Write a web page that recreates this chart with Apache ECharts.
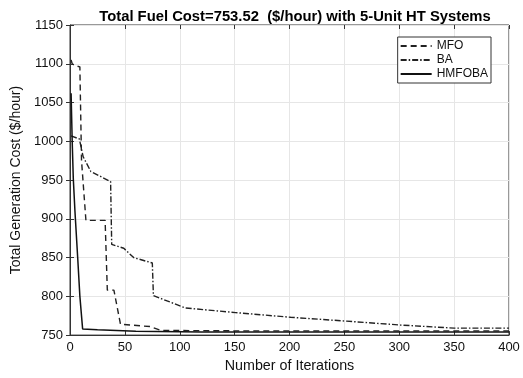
<!DOCTYPE html>
<html><head><meta charset="utf-8">
<script src="https://cdn.jsdelivr.net/npm/echarts@6/dist/echarts.min.js"></script>
<style>html,body{margin:0;padding:0;background:#fff}#c{width:523px;height:378px}</style>
</head><body><div id="c"></div>
<script>
var xTicks = [0, 50, 100, 150, 200, 250, 300, 350, 400];
var yTicks = [750, 800, 850, 900, 950, 1000, 1050, 1100, 1150];

var mfoIter = [1, 2, 4, 9, 10.5, 14.5, 15, 32, 34, 40, 46, 73, 83, 150, 250, 400];
var mfoCost = [1105, 1100, 1098, 1096, 975, 898, 898, 898, 808, 808, 764, 761, 756, 755.5, 755.5, 755.5];

var baIter = [1, 2.4, 8.5, 12, 19, 37, 38, 49, 58, 75, 76, 105, 151, 201, 252, 301, 350, 400];
var baCost = [1007, 1007, 1003, 980, 961, 948, 867, 862, 850, 843, 801, 785, 779, 773, 768, 763, 759, 759];

var hmIter = [1, 2, 3, 4.5, 7, 9, 11.5, 12, 25, 26, 60, 120, 400];
var hmCost = [1062, 1000, 952, 910, 850, 800, 758, 757, 757, 755.5, 755, 754, 754];

function pairs(xs, ys){ return xs.map(function(x,i){ return [x, ys[i]]; }); }

var FF = 'Liberation Sans, Arial, sans-serif';
var chart = echarts.init(document.getElementById('c'));
var axisFont = {fontFamily:FF, fontSize:13, color:'#111', formatter:function(v){ return String(v); }};
chart.setOption({
  animation:false,
  title:{text:'Total Fuel Cost=753.52  ($/hour) with 5-Unit HT Systems', left:290, top:4, textAlign:'center',
    textStyle:{fontFamily:FF, fontSize:14.8, fontWeight:'bold', color:'#000'}},
  grid:{left:70, right:14, top:25, bottom:39, show:true, borderColor:'#333', borderWidth:1},
  xAxis:[{type:'value', min:xTicks[0], max:xTicks[xTicks.length-1], interval:50,
    name:'Number of Iterations', nameLocation:'middle', nameGap:23,
    nameTextStyle:{fontFamily:FF, fontSize:14.3, color:'#111'},
    axisLine:{lineStyle:{color:'#333'}}, axisTick:{inside:true, length:4, lineStyle:{color:'#333'}},
    axisLabel:Object.assign({margin:6}, axisFont),
    splitLine:{show:true, lineStyle:{color:'#e6e6e6', width:1}}},
    {type:'value', position:'top', min:xTicks[0], max:xTicks[xTicks.length-1], interval:50,
    axisLine:{show:false}, axisTick:{inside:true, length:4, lineStyle:{color:'#333'}},
    axisLabel:{show:false}, splitLine:{show:false}}],
  yAxis:[{type:'value', min:yTicks[0], max:yTicks[yTicks.length-1], interval:50,
    name:'Total Generation Cost ($/hour)', nameLocation:'middle', nameGap:34,
    nameTextStyle:{fontFamily:FF, fontSize:14, color:'#111'},
    axisLine:{lineStyle:{color:'#333'}}, axisTick:{inside:true, length:4, lineStyle:{color:'#333'}},
    axisLabel:Object.assign({margin:7}, axisFont),
    splitLine:{show:true, lineStyle:{color:'#e6e6e6', width:1}}},
    {type:'value', position:'right', min:yTicks[0], max:yTicks[yTicks.length-1], interval:50,
    axisLine:{show:false}, axisTick:{inside:true, length:4, lineStyle:{color:'#333'}},
    axisLabel:{show:false}, splitLine:{show:false}}],
  legend:{right:32, top:37, orient:'vertical', itemGap:2, itemWidth:31, itemHeight:10,
    padding:[3,3,3,2], borderColor:'#333', borderWidth:1, backgroundColor:'#fff',
    itemStyle:{opacity:0},
    textStyle:{fontFamily:FF, fontSize:12, color:'#111'},
    data:['MFO','BA','HMFOBA']},
  series:[
    {name:'MFO', type:'line', data:pairs(mfoIter, mfoCost), symbol:'none',
      lineStyle:{color:'#222', width:1.4, type:[6,4]}, itemStyle:{color:'#222'}, z:3},
    {name:'BA', type:'line', data:pairs(baIter, baCost), symbol:'none',
      lineStyle:{color:'#222', width:1.4, type:[6,2,1.5,2]}, itemStyle:{color:'#222'}, z:3},
    {name:'HMFOBA', type:'line', data:pairs(hmIter, hmCost), symbol:'none',
      lineStyle:{color:'#111', width:1.5, type:'solid'}, itemStyle:{color:'#111'}, z:4}
  ]
});
</script></body></html>
